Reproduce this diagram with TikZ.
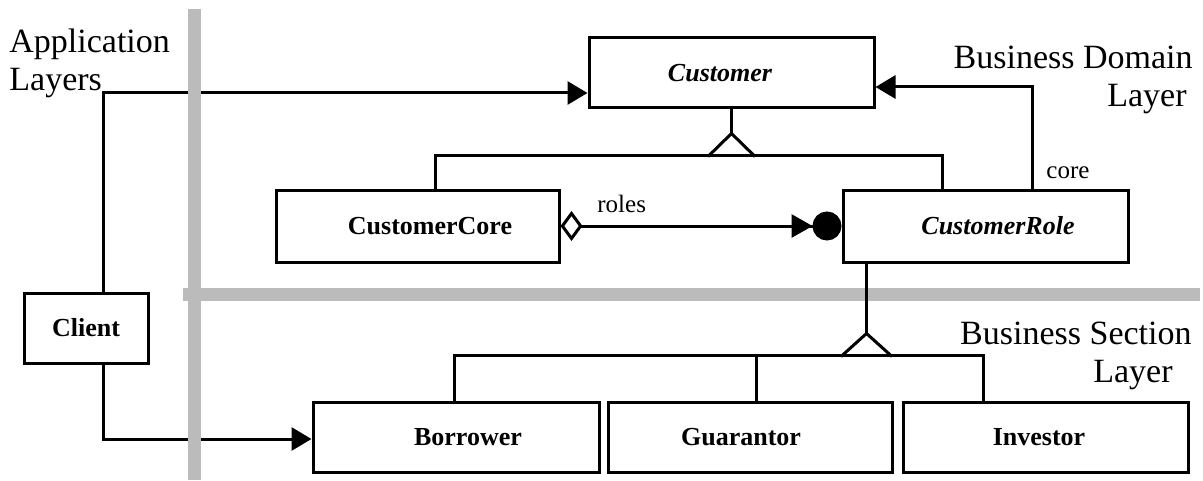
\documentclass[tikz,border=0pt]{standalone}
\usepackage{fontspec}
\setmainfont{Liberation Serif}
\usetikzlibrary{arrows.meta, calc, positioning}
\definecolor{barcolor}{RGB}{187,187,187}

\begin{document}
\begin{tikzpicture}[x=0.5pt, y=-0.5pt,
	classbox/.style={draw, line width=1.5pt, inner sep=0pt, minimum height=35pt, font=\fontsize{13}{15}\selectfont\bfseries},
	layerbar/.style={draw=barcolor, line width=6.5pt},
	conn/.style={line width=1.5pt},
	headarrow/.style={-{Triangle[length=10pt, width=11.5pt]}},
	layertext/.style={inner sep=0pt, font=\fontsize{17}{19}\selectfont},
	roletext/.style={inner sep=0pt, font=\fontsize{12.5}{14}\selectfont, anchor=base west}]
	\useasboundingbox (0,0) rectangle (1203,481);

	% layer between domain and section
	\draw[layerbar] (183,294.5) -- (1200,294.5);

	% classes
	\node[classbox, minimum width=142.5pt] (Customer) at (731.5,73) {\itshape Customer\hspace*{11.5pt}};
	\node[classbox, minimum width=141.5pt, minimum height=36pt] (CustomerCore) at (417.5,226) {\hspace*{12.5pt}CustomerCore};
	\node[classbox, minimum width=142.5pt, minimum height=36pt] (CustomerRole) at (985.5,226) {\hspace*{12.5pt}\itshape CustomerRole};
	\node[classbox, minimum width=62pt] (Client) at (86,328) {Client};
	\node[classbox, minimum width=143pt] (Borrower) at (456,437) {\hspace*{12pt}Borrower};
	\node[classbox, minimum width=142pt] (Guarantor) at (750,437) {Guarantor\hspace*{9pt}};
	\node[classbox, minimum width=142.5pt] (Investor) at (1045.5,437) {Investor\hspace*{6.5pt}};

	% Customer generalisation
	\draw[conn] (Customer.south) -- ++(0,24) coordinate (custApex);
	\draw[conn] ($(custApex)+(-23.5,23)$) -- (custApex) -- ++(23.5,23);
	\coordinate (busCore) at (435,155);
	\coordinate (busRole) at (942,155);
	\draw[conn] (CustomerCore.north -| busCore) -- (busCore) -- (busRole) -- (CustomerRole.north -| busRole);

	% CustomerRole generalisation
	\draw[conn] ($(CustomerRole.south west)+(25,0)$) -- ++(0,70) coordinate (roleApex);
	\draw[conn] ($(roleApex)+(-25.5,23)$) -- (roleApex) -- ++(25.5,23);
	\coordinate (busB) at (454,355);
	\coordinate (busG) at (756,355);
	\coordinate (busI) at (983,355);
	\draw[conn] (Borrower.north -| busB) -- (busB) -- (busI) -- (Investor.north -| busI);
	\draw[conn] (busG) -- (Guarantor.north -| busG);

	% associations
	\coordinate (coreBend) at (1032,87);
	\draw[conn, headarrow] (CustomerRole.north -| coreBend) -- (coreBend) -- (coreBend -| Customer.east);
	\node[roletext] (coreLabel) at (1046,178) {core};

	\draw[conn, {Diamond[open, length=11pt, width=15pt]}-{Triangle[length=10.5pt, width=11.5pt] Circle[length=14.5pt]}] (CustomerCore.east) -- (CustomerRole.west);
	\node[roletext] (rolesLabel) at (597,212) {roles};

	\coordinate (appTop) at (103,93);
	\draw[conn, headarrow] (Client.north -| appTop) -- (appTop) -- (appTop -| Customer.west);
	\coordinate (appBottom) at (103,439);
	\draw[conn, headarrow] (Client.south -| appBottom) -- (appBottom) -- (appBottom -| Borrower.west);

	% layer between application and domain
	\draw[layerbar] (194.5,9) -- (194.5,480);

	% layer names
	\node[layertext, align=left, anchor=north west] (appLabel) at (9,29) {Application\\Layers};
	\node[layertext, align=right, anchor=north east] (domainLabel) at (1193,46) {Business Domain\\Layer\hspace*{3pt}};
	\node[layertext, align=right, anchor=north east] (sectionLabel) at (1192,322) {Business Section\\Layer\hspace*{9.5pt}};
\end{tikzpicture}
\end{document}
